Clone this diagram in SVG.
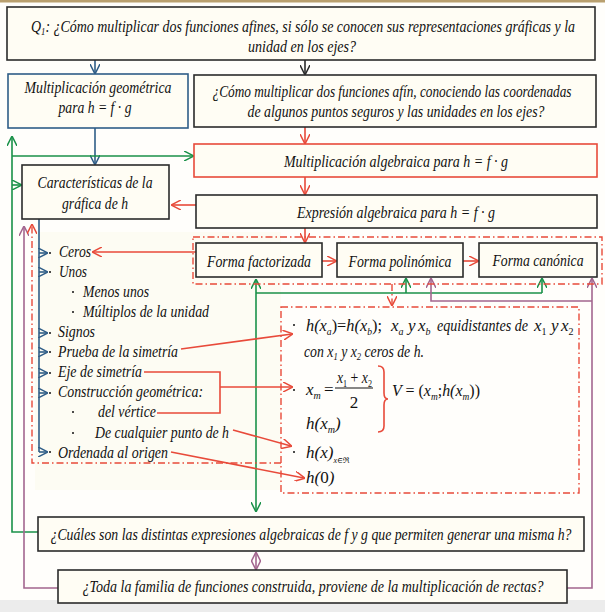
<svg xmlns="http://www.w3.org/2000/svg" width="605" height="612" viewBox="0 0 605 612">
<style>
.box{fill:#fffdf4;stroke:#2b2b2b;stroke-width:1.6}
.t{font-family:"Liberation Serif","DejaVu Serif","Noto Serif",Times,serif;font-style:italic;font-size:16px;fill:#111}
.m{font-family:"Liberation Serif","DejaVu Serif","Noto Serif",Times,serif;font-style:italic;font-size:17px;fill:#111}
.up{font-style:normal}
.sub{font-size:10px}
.c{text-anchor:middle}
.red{fill:none;stroke:#e84a3a;stroke-width:1.6}
.rdd{fill:none;stroke:#e84a3a;stroke-width:1.4;stroke-dasharray:7,3,1.5,3}
.grn{fill:none;stroke:#1a9149;stroke-width:1.6}
.pur{fill:none;stroke:#a3668f;stroke-width:1.6}
.blu{fill:none;stroke:#2f5d87;stroke-width:1.6}
.blk{fill:none;stroke:#2b2b2b;stroke-width:1.6}
.dot{fill:#111}
</style>
<defs>
<marker id="aR" viewBox="0 0 10 10" refX="9" refY="5" markerWidth="10" markerHeight="10" markerUnits="userSpaceOnUse" orient="auto-start-reverse"><path d="M0,0 L10,5 L0,10" fill="none" stroke="#e84a3a" stroke-width="1.5"/></marker>
<marker id="aG" viewBox="0 0 10 10" refX="9" refY="5" markerWidth="10" markerHeight="10" markerUnits="userSpaceOnUse" orient="auto-start-reverse"><path d="M0,0 L10,5 L0,10" fill="none" stroke="#1a9149" stroke-width="1.5"/></marker>
<marker id="aP" viewBox="0 0 10 10" refX="9" refY="5" markerWidth="10" markerHeight="10" markerUnits="userSpaceOnUse" orient="auto-start-reverse"><path d="M0,0 L10,5 L0,10" fill="none" stroke="#a3668f" stroke-width="1.5"/></marker>
<marker id="aB" viewBox="0 0 10 10" refX="9" refY="5" markerWidth="10" markerHeight="10" markerUnits="userSpaceOnUse" orient="auto-start-reverse"><path d="M0,0 L10,5 L0,10" fill="none" stroke="#2f5d87" stroke-width="1.5"/></marker>
<marker id="aK" viewBox="0 0 10 10" refX="9" refY="5" markerWidth="10" markerHeight="10" markerUnits="userSpaceOnUse" orient="auto-start-reverse"><path d="M0,0 L10,5 L0,10" fill="none" stroke="#2b2b2b" stroke-width="1.5"/></marker>
</defs>
<rect x="0" y="0" width="605" height="612" fill="#fffefb"/>
<rect x="0" y="0" width="605" height="2.5" fill="#b9a06f"/>
<rect x="0" y="600" width="605" height="12" fill="#ececec"/>
<rect x="35" y="232" width="246" height="258" fill="#fdfcf3"/>

<g id="connectors">
<line class="blu" x1="95" y1="60" x2="95" y2="73" marker-end="url(#aB)"/>
<line class="blk" x1="305" y1="60" x2="305" y2="74" marker-end="url(#aK)"/>
<line class="blu" x1="95" y1="128" x2="95" y2="164" marker-end="url(#aB)"/>
<line class="red" x1="305" y1="127" x2="305" y2="143" marker-end="url(#aR)"/>
<line class="red" x1="305" y1="177" x2="305" y2="194" marker-end="url(#aR)"/>
<line class="red" x1="196" y1="205" x2="172" y2="205" marker-end="url(#aR)"/>
<line class="red" x1="305" y1="228" x2="305" y2="242" marker-end="url(#aR)"/>
<line class="red" x1="322" y1="261" x2="336" y2="261" marker-end="url(#aR)"/>
<line class="red" x1="463" y1="261" x2="478" y2="261" marker-end="url(#aR)"/>
<line class="red" x1="196" y1="252" x2="93" y2="252" marker-end="url(#aR)"/>
<path class="grn" d="M38,532 L12,532 L12,137" marker-end="url(#aG)"/>
<line class="grn" x1="12" y1="156" x2="193" y2="156" marker-end="url(#aG)"/>
<line class="grn" x1="12" y1="185" x2="21" y2="185" marker-end="url(#aG)"/>
<line class="grn" x1="256" y1="280" x2="256" y2="511" marker-start="url(#aG)" marker-end="url(#aG)"/>
<line class="grn" x1="256" y1="293" x2="542" y2="293"/>
<line class="grn" x1="406" y1="293" x2="406" y2="279" marker-end="url(#aG)"/>
<line class="grn" x1="542" y1="293" x2="542" y2="279" marker-end="url(#aG)"/>
<path class="pur" d="M58,588 L24,588 L24,227" marker-end="url(#aP)"/>
<path class="pur" d="M567,588 L592,588 L592,279" marker-end="url(#aP)"/>
<path class="pur" d="M592,301 L431,301 L431,279" marker-end="url(#aP)"/>
<line class="pur" x1="256" y1="553" x2="256" y2="569" marker-start="url(#aP)" marker-end="url(#aP)"/>
<rect class="rdd" x="193" y="237" width="409" height="47"/>
<rect class="rdd" x="281" y="307" width="298" height="186"/>
<path class="rdd" d="M281,463 L32,463 L32,225" marker-end="url(#aR)"/>
<line class="rdd" x1="392" y1="284" x2="392" y2="305" marker-end="url(#aR)"/>
<line class="blu" x1="39" y1="219" x2="39" y2="452"/>
<line class="blu" x1="39" y1="253" x2="47" y2="253" marker-end="url(#aB)"/>
<line class="blu" x1="39" y1="272" x2="47" y2="272" marker-end="url(#aB)"/>
<line class="blu" x1="39" y1="333" x2="47" y2="333" marker-end="url(#aB)"/>
<line class="blu" x1="39" y1="352" x2="47" y2="352" marker-end="url(#aB)"/>
<line class="blu" x1="39" y1="373" x2="47" y2="373" marker-end="url(#aB)"/>
<line class="blu" x1="39" y1="393" x2="47" y2="393" marker-end="url(#aB)"/>
<line class="blu" x1="39" y1="452" x2="47" y2="452" marker-end="url(#aB)"/>
<line class="red" x1="181" y1="349" x2="292" y2="334" marker-end="url(#aR)"/>
<path class="red" d="M144,372 L220,372 L220,413 L157,413"/>
<line class="red" x1="220" y1="387" x2="292" y2="387" marker-end="url(#aR)"/>
<line class="red" x1="233" y1="430" x2="291" y2="446" marker-end="url(#aR)"/>
<line class="red" x1="171" y1="452" x2="304" y2="478" marker-end="url(#aR)"/>
<path class="red" stroke-width="1.2" d="M378,366 Q384,366 384,372 L384,393 Q384,399 388,399 Q384,399 384,405 L384,426 Q384,432 378,432"/>
</g>

<g id="q1">
<rect class="box" x="7" y="7" width="588" height="53"/>
<text class="t" x="31" y="32" textLength="544" lengthAdjust="spacingAndGlyphs">Q<tspan class="sub" dy="3">1</tspan><tspan dy="-3">: ¿Cómo multiplicar dos funciones afines, si sólo se conocen sus representaciones gráficas y la</tspan></text>
<text class="t c" x="302" y="52" textLength="108" lengthAdjust="spacingAndGlyphs">unidad en los ejes?</text>
</g>
<g id="mult-geom">
<rect x="8" y="74" width="180" height="54" fill="#fffdf4" stroke="#2f5d87" stroke-width="1.6"/>
<text class="t c" x="98" y="93" textLength="147" lengthAdjust="spacingAndGlyphs">Multiplicación geométrica</text>
<text class="t c" x="95" y="113" textLength="73" lengthAdjust="spacingAndGlyphs">para h = f · g</text>
</g>
<g id="como-coord">
<rect class="box" x="194" y="75" width="402" height="52"/>
<text class="t c" x="392" y="97" textLength="359" lengthAdjust="spacingAndGlyphs">¿Cómo multiplicar dos funciones afín, conociendo las coordenadas</text>
<text class="t c" x="396" y="117" textLength="297" lengthAdjust="spacingAndGlyphs">de algunos puntos seguros y las unidades en los ejes?</text>
</g>
<g id="mult-alg">
<rect x="194" y="144" width="403" height="33" fill="#fffdf4" stroke="#e84a3a" stroke-width="1.6"/>
<text class="t c" x="396" y="167" textLength="224" lengthAdjust="spacingAndGlyphs">Multiplicación algebraica para  h = f · g</text>
</g>
<g id="expresion">
<rect class="box" x="196" y="195" width="401" height="33"/>
<text class="t c" x="396" y="218" textLength="198" lengthAdjust="spacingAndGlyphs">Expresión algebraica para h = f · g</text>
</g>
<g id="caracteristicas">
<rect class="box" x="22" y="165" width="147" height="54"/>
<text class="t c" x="95" y="188" textLength="115" lengthAdjust="spacingAndGlyphs">Características de la</text>
<text class="t c" x="95" y="209" textLength="66" lengthAdjust="spacingAndGlyphs">gráfica de h</text>
</g>
<g id="forma-fact">
<rect class="box" x="196" y="243" width="126" height="34"/>
<text class="t c" x="259" y="267" textLength="104" lengthAdjust="spacingAndGlyphs">Forma factorizada</text>
</g>
<g id="forma-pol">
<rect class="box" x="337" y="243" width="126" height="34"/>
<text class="t c" x="400" y="267" textLength="103" lengthAdjust="spacingAndGlyphs">Forma polinómica</text>
</g>
<g id="forma-can">
<rect class="box" x="479" y="243" width="118" height="34"/>
<text class="t c" x="538" y="266" textLength="91" lengthAdjust="spacingAndGlyphs">Forma canónica</text>
</g>

<g id="lista">
<circle class="dot" cx="50" cy="253" r="1"/>
<text class="t" x="59" y="257" textLength="32" lengthAdjust="spacingAndGlyphs">Ceros</text>
<circle class="dot" cx="50" cy="272" r="1"/>
<text class="t" x="59" y="277" textLength="28" lengthAdjust="spacingAndGlyphs">Unos</text>
<circle class="dot" cx="73" cy="292" r="1"/>
<text class="t" x="83" y="297" textLength="66" lengthAdjust="spacingAndGlyphs">Menos unos</text>
<circle class="dot" cx="73" cy="312" r="1"/>
<text class="t" x="83" y="317" textLength="126" lengthAdjust="spacingAndGlyphs">Múltiplos de la unidad</text>
<circle class="dot" cx="50" cy="333" r="1"/>
<text class="t" x="58" y="337" textLength="37" lengthAdjust="spacingAndGlyphs">Signos</text>
<circle class="dot" cx="50" cy="352" r="1"/>
<text class="t" x="58" y="357" textLength="120" lengthAdjust="spacingAndGlyphs">Prueba de la simetría</text>
<circle class="dot" cx="50" cy="373" r="1"/>
<text class="t" x="58" y="377" textLength="84" lengthAdjust="spacingAndGlyphs">Eje de simetría</text>
<circle class="dot" cx="50" cy="393" r="1"/>
<text class="t" x="58" y="397" textLength="145" lengthAdjust="spacingAndGlyphs">Construcción geométrica:</text>
<circle class="dot" cx="73" cy="412" r="1"/>
<text class="t" x="98" y="417" textLength="58" lengthAdjust="spacingAndGlyphs">del vértice</text>
<circle class="dot" cx="73" cy="433" r="1"/>
<text class="t" x="95" y="438" textLength="134" lengthAdjust="spacingAndGlyphs">De cualquier punto de h</text>
<circle class="dot" cx="50" cy="452" r="1"/>
<text class="t" x="58" y="458" textLength="110" lengthAdjust="spacingAndGlyphs">Ordenada al origen</text>
</g>

<g id="propiedades">
<circle class="dot" cx="294" cy="325" r="1"/>
<text class="m" x="306" y="331" textLength="76" lengthAdjust="spacingAndGlyphs">h(x<tspan class="sub" dy="4">a</tspan><tspan dy="-4" class="up">)=</tspan><tspan>h(x</tspan><tspan class="sub" dy="4">b</tspan><tspan dy="-4" class="up">);</tspan></text>
<text class="m" x="391" y="331">x<tspan class="sub" dy="4">a</tspan></text>
<text class="m" x="408" y="331">y</text>
<text class="m" x="418" y="331">x<tspan class="sub" dy="4">b</tspan></text>
<text class="t" x="437" y="331" textLength="91" lengthAdjust="spacingAndGlyphs">equidistantes de</text>
<text class="m" x="534" y="331">x<tspan class="sub up" dy="4">1</tspan></text>
<text class="m" x="551" y="331">y</text>
<text class="m" x="561" y="331">x<tspan class="sub up" dy="4">2</tspan></text>
<text class="t" x="304" y="357" textLength="120" lengthAdjust="spacingAndGlyphs">con x<tspan class="sub" dy="3">1</tspan><tspan dy="-3"> y x</tspan><tspan class="sub" dy="3">2</tspan><tspan dy="-3"> ceros de h.</tspan></text>
<circle class="dot" cx="294" cy="390" r="1"/>
<text class="m" x="306" y="395">x<tspan class="sub" dy="4">m</tspan></text>
<text class="m up" x="324" y="395">=</text>
<text class="m" x="337" y="383" textLength="35" lengthAdjust="spacingAndGlyphs">x<tspan class="sub up" dy="4">1</tspan><tspan dy="-4" class="up"> + </tspan><tspan>x</tspan><tspan class="sub up" dy="4">2</tspan></text>
<line x1="335" y1="388" x2="373" y2="388" stroke="#111" stroke-width="1"/>
<text class="m up c" x="354" y="408">2</text>
<text class="m" x="306" y="429">h(x<tspan class="sub" dy="4">m</tspan><tspan dy="-4">)</tspan></text>
<text class="m" x="392" y="396" textLength="88" lengthAdjust="spacingAndGlyphs">V <tspan class="up">= (</tspan>x<tspan class="sub" dy="4">m</tspan><tspan dy="-4" class="up">;</tspan>h(x<tspan class="sub" dy="4">m</tspan><tspan dy="-4" class="up">))</tspan></text>
<circle class="dot" cx="294" cy="452" r="1"/>
<text class="m" x="306" y="458">h(x)<tspan style="font-size:8px" dy="5">x∈ℜ</tspan></text>
<text class="m" x="306" y="483">h(<tspan class="up">0</tspan>)</text>
</g>

<g id="cuales">
<rect class="box" x="38" y="517" width="546" height="34"/>
<text class="t c" x="311" y="540" textLength="521" lengthAdjust="spacingAndGlyphs">¿Cuáles son las distintas expresiones algebraicas de f y g que permiten generar una misma h?</text>
</g>
<g id="toda">
<rect class="box" x="58" y="570" width="509" height="33"/>
<text class="t c" x="313" y="592" textLength="461" lengthAdjust="spacingAndGlyphs">¿Toda la familia de funciones construida, proviene de la multiplicación de rectas?</text>
</g>
</svg>
